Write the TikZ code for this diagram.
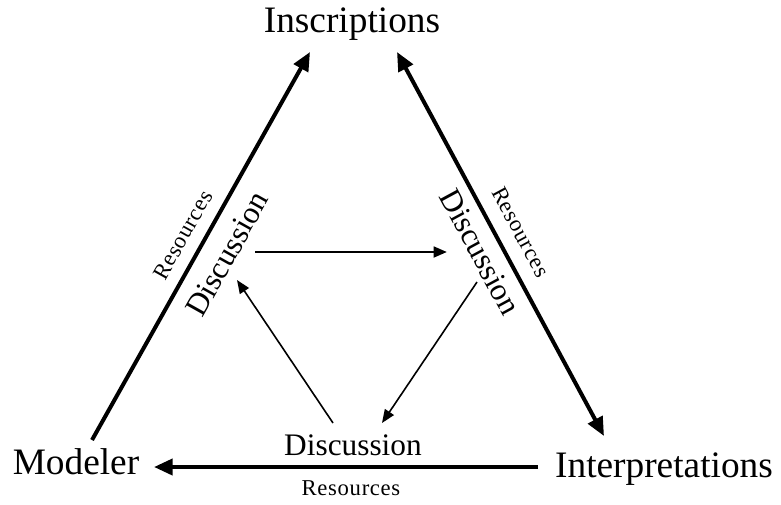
\documentclass[tikz,border=0pt]{standalone}
\usepackage{fontspec}
\setmainfont{Liberation Serif}
\newfontfamily\resfont[LetterSpace=3]{Liberation Serif}
\usetikzlibrary{arrows.meta}

\tikzset{every picture/.style={line width=0.75pt}}
\tikzset{
  mainarrow/.style={line width=3pt, -{Triangle[length=14pt,width=12pt]}},
  mainboth/.style={line width=3pt, {Triangle[length=14pt,width=12pt]}-{Triangle[length=14pt,width=12pt]}},
  innerarrow/.style={line width=1.2pt, -{Triangle[length=10pt,width=8pt]}},
  cornerlabel/.style={font=\fontsize{28}{30}\selectfont, inner sep=0pt},
  disclabel/.style={font=\fontsize{23.5}{25}\selectfont, inner sep=0pt},
  reslabel/.style={font=\resfont\fontsize{17}{19}\selectfont, inner sep=0pt},
}

\begin{document}
\begin{tikzpicture}[x=0.75pt,y=0.75pt,yscale=-1,xscale=1]
\useasboundingbox (0,0) rectangle (781,504);

% the three corners
\draw (352,32) node [cornerlabel, anchor=base] (inscr) {Inscriptions};
\draw (76,474) node [cornerlabel, anchor=base] (modeler) {Modeler};
\draw (664,477) node [cornerlabel, anchor=base] (interp) {Interpretations};

% ends of the big arrows
\coordinate (modTop) at (92,440);
\coordinate (inscLeft) at (310,52);
\coordinate (inscRight) at (397,52);
\coordinate (interpTop) at (604,436);
\coordinate (interpLeft) at (538,467);
\coordinate (modRight) at (154,467);

% outer triangle
\draw [mainarrow] (modTop) -- (inscLeft);
\draw [mainboth] (inscRight) -- (interpTop);
\draw [mainarrow] (interpLeft) -- (modRight);

% labels along the sides
\draw (183,235) node [reslabel, rotate=60.7] (resLeft) {Resources};
\draw (227,254) node [disclabel, rotate=60.7] (discLeft) {Discussion};
\draw (521,232) node [reslabel, rotate=-61.6] (resRight) {Resources};
\draw (480,252) node [disclabel, rotate=-61.6] (discRight) {Discussion};
\draw (353,455) node [disclabel, anchor=base] (discBottom) {Discussion};
\draw (351,495) node [reslabel, anchor=base] (resBottom) {Resources};

% ends of the inner arrows
\coordinate (dLeftA) at (255,252);
\coordinate (dRightA) at (447,252);
\coordinate (dRightB) at (477,282);
\coordinate (dBottomA) at (382,423);
\coordinate (dBottomB) at (333,423);
\coordinate (dLeftB) at (237,280);

% inner triangle
\draw [innerarrow, line width=2pt] (dLeftA) -- (dRightA);
\draw [innerarrow] (dRightB) -- (dBottomA);
\draw [innerarrow] (dBottomB) -- (dLeftB);

\end{tikzpicture}
\end{document}
